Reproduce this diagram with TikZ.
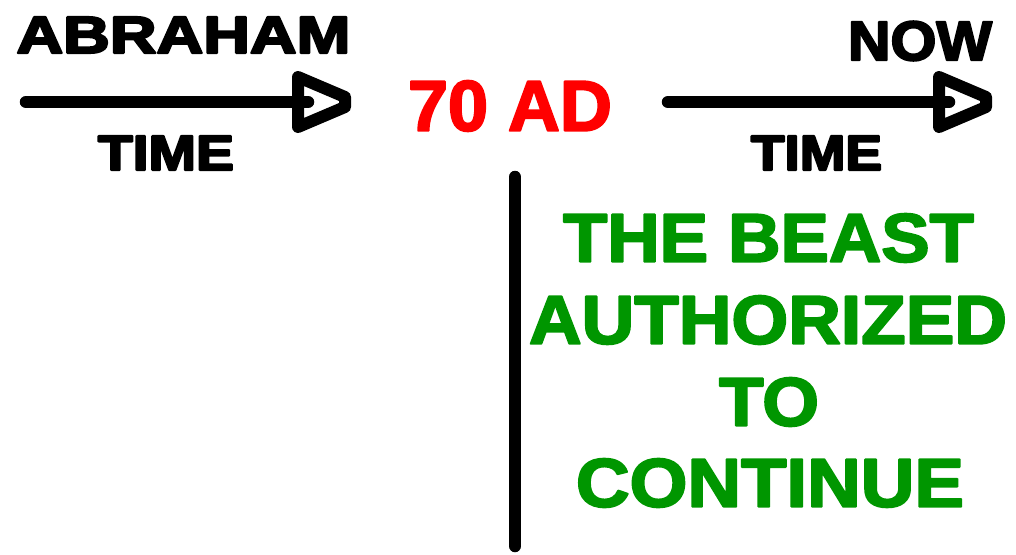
\documentclass[tikz,border=0pt]{standalone}
\usepackage{fontspec}
\setmainfont{Liberation Sans}
\usepackage{graphicx}
\definecolor{beastgreen}{RGB}{0,150,0}
\definecolor{adred}{RGB}{255,0,0}
\newcommand{\heavytext}[4]{\resizebox{#2}{#3}{\fontsize{#1}{#1}\selectfont\special{pdf:literal direct 2 Tr 2 w 1 j}#4\special{pdf:literal direct 0 Tr 1 w}}}
\tikzset{
  lbl/.style={inner sep=0pt, outer sep=0pt, anchor=center, font=\bfseries},
  timeline/.style={line width=12.5pt, line cap=round, black},
  headtri/.style={line width=12pt, line join=round, black, fill=white},
}
\begin{document}
\begin{tikzpicture}[x=1pt,y=-1pt]
\useasboundingbox (0,0) rectangle (1016,554);
% top labels
\node[lbl] (abraham) at (183.5,35) {\heavytext{50pt}{334pt}{36pt}{ABRAHAM}};
\node[lbl] (now) at (920,41) {\heavytext{56pt}{144pt}{39pt}{NOW}};
\node[lbl, text=adred] (ad) at (510,106) {\heavytext{72pt}{204pt}{50pt}{70 AD}};
\node[lbl] (time1) at (166,153) {\heavytext{48pt}{136pt}{34pt}{TIME}};
\node[lbl] (time2) at (816.5,153) {\heavytext{48pt}{131pt}{34pt}{TIME}};
% left arrow
\coordinate (l0) at (26,102);
\coordinate (l1) at (308,102);
\coordinate (lt1) at (298,77);
\coordinate (lt2) at (345,97);
\coordinate (lt3) at (345,107);
\coordinate (lt4) at (298,127);
\draw[headtri] (lt1) -- (lt2) -- (lt3) -- (lt4) -- cycle;
\draw[timeline] (l0) -- (l1);
% right arrow
\coordinate (r0) at (668,102);
\coordinate (r1) at (949,102);
\coordinate (rt1) at (939,77);
\coordinate (rt2) at (986,97);
\coordinate (rt3) at (986,107);
\coordinate (rt4) at (939,127);
\draw[headtri] (rt1) -- (rt2) -- (rt3) -- (rt4) -- cycle;
\draw[timeline] (r0) -- (r1);
% vertical divider
\coordinate (v0) at (515,177);
\coordinate (v1) at (515,546);
\draw[timeline] (v0) -- (v1);
% green text
\node[lbl, text=beastgreen] (g1) at (768.5,238) {\heavytext{70pt}{411pt}{48pt}{THE BEAST}};
\node[lbl, text=beastgreen] (g2) at (768,320) {\heavytext{70pt}{478pt}{48pt}{AUTHORIZED}};
\node[lbl, text=beastgreen] (g3) at (769,402) {\heavytext{70pt}{100pt}{48pt}{TO}};
\node[lbl, text=beastgreen] (g4) at (770,483) {\heavytext{70pt}{388pt}{48pt}{CONTINUE}};
\end{tikzpicture}
\end{document}
